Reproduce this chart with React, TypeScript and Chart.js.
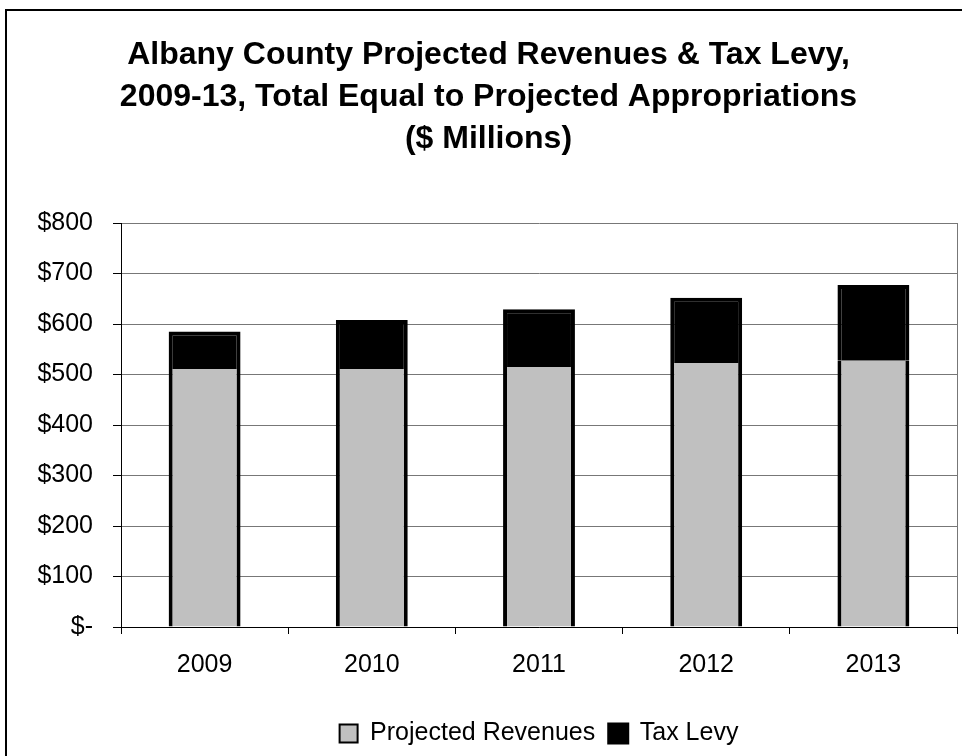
import React, { useEffect, useRef } from 'react';
import { Chart, registerables } from 'chart.js';

Chart.register(...registerables);

const years = ['2009', '2010', '2011', '2012', '2013'];
const projectedRevenues = [511, 511, 515, 523, 527];
const taxLevy = [74, 97, 114, 129, 150];
const seriesNames = ['Projected Revenues', 'Tax Levy'];
const yTickValues = [0, 100, 200, 300, 400, 500, 600, 700, 800];
const yTickLabels = ['$-', '$100', '$200', '$300', '$400', '$500', '$600', '$700', '$800'];
const titleLines = [
  'Albany County Projected Revenues & Tax Levy,',
  '2009-13, Total Equal to Projected Appropriations',
  '($ Millions)',
];

const FONT = '"Liberation Sans", Arial, Helvetica, sans-serif';

export default function App() {
  const canvasRef = useRef<HTMLCanvasElement | null>(null);

  useEffect(() => {
    const canvas = canvasRef.current;
    if (!canvas) return;
    const chart = new Chart(canvas, {
      type: 'bar',
      data: {
        labels: years,
        datasets: [
          {
            label: seriesNames[0],
            data: projectedRevenues,
            backgroundColor: '#C0C0C0',
            borderColor: '#000000',
            borderWidth: { top: 0, left: 4, right: 4, bottom: 0 },
            borderSkipped: false,
            barPercentage: 0.43,
            categoryPercentage: 1,
          },
          {
            label: seriesNames[1],
            data: taxLevy,
            backgroundColor: '#000000',
            borderColor: '#000000',
            borderWidth: 4,
            barPercentage: 0.43,
            categoryPercentage: 1,
          },
        ],
      },
      options: {
        responsive: false,
        animation: false,
        layout: { padding: { left: 20, right: 5, top: 0, bottom: 0 } },
        plugins: {
          title: {
            display: true,
            text: titleLines,
            color: '#000',
            font: { family: FONT, size: 32, weight: 'bold', lineHeight: 1.3125 },
            padding: { top: 34, bottom: 63 },
          },
          legend: {
            position: 'bottom',
            fullSize: false,
            labels: {
              boxWidth: 18,
              boxHeight: 18,
              padding: 14,
              color: '#000',
              font: { family: FONT, size: 25 },
            },
          },
          tooltip: { enabled: false },
        },
        scales: {
          x: {
            stacked: true,
            grid: {
              offset: true,
              drawOnChartArea: true,
              color: (c: any) => (c.type === 'scale' ? '#777777' : 'rgba(0,0,0,0)'),
              tickColor: '#000',
              tickLength: 7,
              lineWidth: 1,
            },
            border: { color: '#000', width: 1 },
            ticks: { color: '#000', font: { family: FONT, size: 25 }, padding: 16 },
            afterFit: (s: any) => {
              s.height = 80;
            },
          },
          y: {
            stacked: true,
            min: 0,
            max: 800,
            ticks: {
              stepSize: 100,
              color: '#000',
              font: { family: FONT, size: 25 },
              padding: 20,
              callback: (v: any) => {
                const i = yTickValues.indexOf(Number(v));
                return i >= 0 ? yTickLabels[i] : '';
              },
            },
            grid: { color: '#777777', tickColor: '#000', tickLength: 8, lineWidth: 1 },
            border: { color: '#000', width: 1 },
            afterFit: (s: any) => {
              s.width = 101;
            },
          },
        },
      },
    });
    return () => chart.destroy();
  }, []);

  return (
    <div style={{ position: 'fixed', left: 0, top: 0, width: 962, height: 756, overflow: 'hidden', background: '#fff' }}>
      <div
        style={{
          position: 'absolute',
          left: 5,
          top: 9,
          width: 1000,
          height: 800,
          border: '2px solid #000',
          boxSizing: 'border-box',
        }}
      />
      <canvas ref={canvasRef} width={962} height={756} style={{ position: 'absolute', left: 0, top: 0, width: 962, height: 756 }} />
    </div>
  );
}
